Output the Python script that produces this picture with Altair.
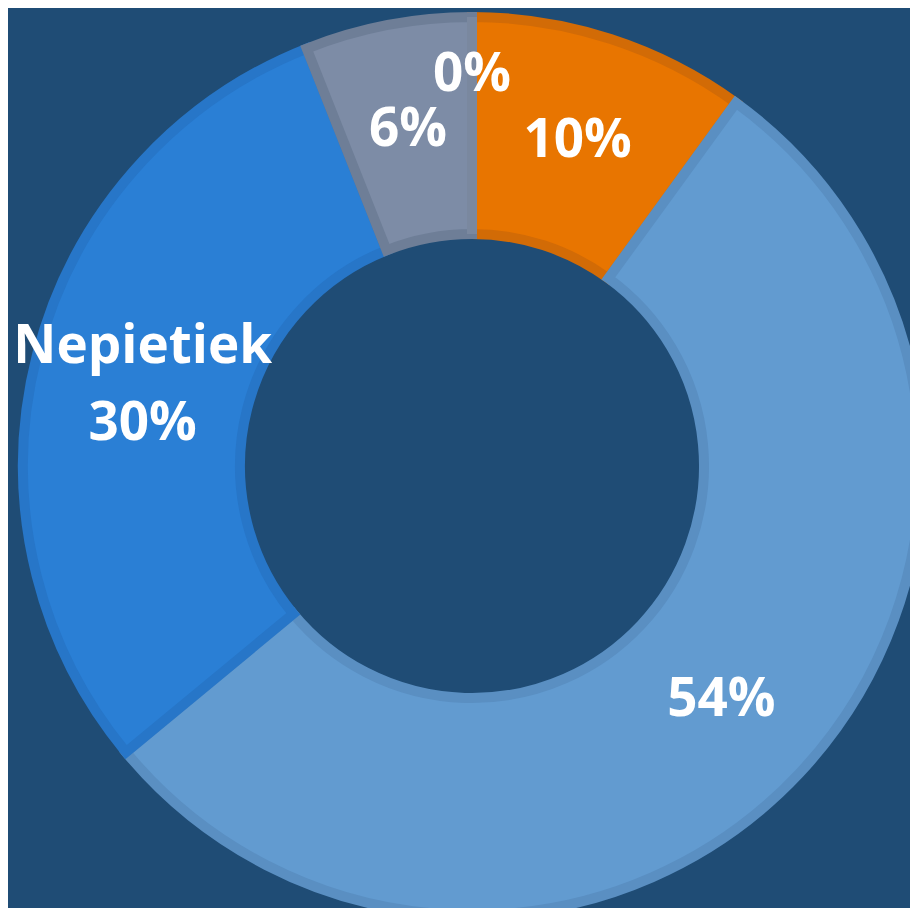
import altair as alt
import pandas as pd

categories = ["A", "B", "Nepietiek", "D", "E"]
values = [10, 54, 30, 6, 0]
labels = ["10%", "54%", "Nepietiek\n30%", "6%", "0%"]
fills = ["#e87500", "#629bd0", "#2a7fd5", "#7d8ca6", "#8a98b0"]
strokes = ["#d26b06", "#5a8fc2", "#2776c8", "#6e7e97", "#7a889f"]

df = pd.DataFrame({
    "idx": list(range(len(categories))),
    "category": categories,
    "value": values,
    "label": labels,
})

CX, CY = 464, 458

base = alt.Chart(df).encode(
    theta=alt.Theta("value:Q", stack=True, scale=alt.Scale(domain=[0, 100])),
    order=alt.Order("idx:Q"),
    x=alt.value(CX),
    y=alt.value(CY),
)

arcs = base.mark_arc(outerRadius=449, innerRadius=232, strokeWidth=10).encode(
    fill=alt.Fill("category:N", scale=alt.Scale(domain=categories, range=fills), legend=None),
    stroke=alt.Stroke("category:N", scale=alt.Scale(domain=categories, range=strokes), legend=None),
)

txt = dict(font="Open Sans", fontWeight="bold", fontSize=53, color="white",
           align="center", baseline="middle")

text_single = base.mark_text(radius=342, **txt).encode(text="t1:N").transform_calculate(
    t1="datum.value > 0 && indexof(datum.label, '\\n') < 0 ? datum.label : ''")

text_multi = base.mark_text(radius=340, lineBreak="\n", lineHeight=77, dy=-34, **txt).encode(
    text="t2:N").transform_calculate(
    t2="indexof(datum.label, '\\n') >= 0 ? datum.label : ''")

text_zero = base.mark_text(radius=391, **txt).encode(text="t3:N").transform_calculate(
    t3="datum.value == 0 ? datum.label : ''")

chart = alt.layer(arcs, text_single, text_multi, text_zero).properties(
    width=902, height=900,
    autosize=alt.AutoSizeParams(type="none"),
    padding=0,
    background="#1f4c75",
).configure_view(stroke=None)

chart.save("out.html", embed_options={"renderer": "svg", "actions": False})
